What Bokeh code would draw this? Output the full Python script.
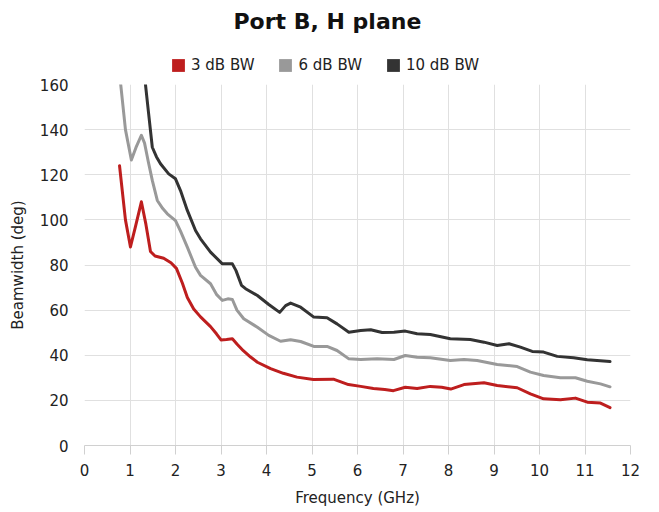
from bokeh.plotting import figure
from bokeh.layouts import column
from bokeh.models import Range1d, Legend, LegendItem, SingleIntervalTicker, ColumnDataSource
from bokeh.embed import file_html
from bokeh.resources import INLINE

FONT = "DejaVu Sans"

series_names = ["3 dB BW", "6 dB BW", "10 dB BW"]
series_colors = ["#BE1E1E", "#999999", "#333333"]

freq_3db = [0.77, 0.9, 1.01, 1.12, 1.25, 1.35, 1.45, 1.55, 1.74, 1.9, 2.02, 2.15, 2.26, 2.4, 2.55,
            2.77, 2.9, 3.0, 3.12, 3.25, 3.35, 3.49, 3.65, 3.8, 4.09, 4.37, 4.67, 5.03, 5.47, 5.8,
            6.07, 6.35, 6.6, 6.79, 7.05, 7.31, 7.6, 7.85, 8.05, 8.34, 8.78, 9.07, 9.51, 9.8,
            10.09, 10.46, 10.79, 11.05, 11.34, 11.55]
bw_3db = [124, 100, 88, 97, 108, 98, 86, 84, 83, 81, 78.5, 72, 65.6, 60.5, 57,
          52.7, 49.5, 46.8, 47, 47.3, 45, 42, 39.2, 36.9, 34.1, 32.0, 30.3, 29.3, 29.4, 27.0,
          26.2, 25.3, 24.8, 24.3, 25.8, 25.3, 26.2, 25.8, 25.0, 27, 27.8, 26.6, 25.6, 22.9,
          20.7, 20.3, 21, 19.2, 18.8, 16.8]

freq_6db = [0.77, 0.9, 1.03, 1.13, 1.25, 1.32, 1.4, 1.49, 1.6, 1.72, 1.82, 2.0, 2.11, 2.26, 2.44,
            2.55, 2.77, 2.9, 3.03, 3.15, 3.25, 3.35, 3.5, 3.8, 4.05, 4.31, 4.53, 4.75, 5.04, 5.33,
            5.55, 5.81, 6.07, 6.43, 6.8, 7.05, 7.31, 7.6, 8.04, 8.34, 8.63, 9.07, 9.51, 9.8,
            10.09, 10.46, 10.79, 11.05, 11.34, 11.55]
bw_6db = [165, 140, 126.5, 132, 137.5, 134, 126, 117.5, 108.6, 105, 102.7, 99.7, 95, 87.9, 79,
          75.4, 71.7, 67, 64.3, 65, 64.7, 60, 56.2, 52.4, 48.8, 46.2, 46.9, 46.1, 43.9, 43.9,
          42.1, 38.4, 38.1, 38.4, 38.1, 39.9, 39.1, 38.9, 37.7, 38.1, 37.7, 35.9, 35.0, 32.5,
          31.0, 30.0, 30.0, 28.5, 27.3, 26.0]

freq_10db = [1.3, 1.34, 1.41, 1.49, 1.58, 1.67, 1.85, 2.0, 2.11, 2.26, 2.44, 2.55, 2.77, 3.03, 3.25,
             3.33, 3.45, 3.54, 3.8, 4.05, 4.29, 4.42, 4.53, 4.75, 5.04, 5.33, 5.55, 5.81, 6.07, 6.29,
             6.54, 6.8, 7.05, 7.31, 7.6, 8.04, 8.48, 8.78, 9.07, 9.33, 9.58, 9.84, 10.09, 10.39,
             10.75, 11.05, 11.55]
bw_10db = [170, 160, 147, 132.2, 128, 124.9, 120.4, 118.2, 113, 104.2, 95.3, 91.6, 85.7, 80.5, 80.5,
           77.5, 71, 69.5, 66.5, 62.5, 59, 62, 63.1, 61.3, 56.9, 56.6, 53.9, 50.2, 51.0, 51.3,
           50.1, 50.2, 50.7, 49.5, 49.2, 47.3, 47.0, 45.8, 44.3, 45.1, 43.6, 41.7, 41.4, 39.5,
           38.9, 38.0, 37.2]

x_range = (0, 12)
y_range = (0, 160)

# ---- header: title + legend ----
head = figure(width=659, height=74, output_backend="svg", toolbar_location=None,
              x_range=Range1d(0, 1), y_range=Range1d(0, 1),
              x_axis_type=None, y_axis_type=None,
              min_border_left=0, min_border_right=0, min_border_top=40, min_border_bottom=0)
head.title.text = "Port B, H plane"
head.title.align = "left"
head.title.offset = 149
head.title.text_font = FONT
head.title.text_font_size = "22px"
head.title.text_font_style = "bold"
head.title.text_color = "#111111"
head.title.standoff = 13
head.outline_line_color = None
head.xgrid.visible = False
head.ygrid.visible = False

items = []
for name, c in zip(series_names, series_colors):
    src = ColumnDataSource(dict(l=[float("nan")], r=[float("nan")], b=[float("nan")], t=[float("nan")]))
    r = head.quad(left="l", right="r", bottom="b", top="t", source=src,
                  fill_color=c, line_color=None)
    items.append(LegendItem(label=name, renderers=[r]))

legend = Legend(items=items, orientation="horizontal", location=(86, 0),
                label_text_font=FONT, label_text_font_size="15px", label_text_color="#222222",
                glyph_width=16, glyph_height=16, spacing=23, label_standoff=5,
                border_line_color=None, background_fill_alpha=0, padding=4, margin=0)
head.add_layout(legend, "center")

# ---- main chart ----
p = figure(width=659, height=438, output_backend="svg", toolbar_location=None,
           x_range=Range1d(*x_range), y_range=Range1d(*y_range),
           min_border_left=84, min_border_right=29, min_border_top=10, min_border_bottom=67)
p.outline_line_color = None

for xs, ys, c in [(freq_3db, bw_3db, series_colors[0]),
                  (freq_6db, bw_6db, series_colors[1]),
                  (freq_10db, bw_10db, series_colors[2])]:
    p.line(xs, ys, line_color=c, line_width=3, line_join="round", line_cap="round")

p.xaxis.ticker = SingleIntervalTicker(interval=1)
p.yaxis.ticker = SingleIntervalTicker(interval=20)
p.xgrid.grid_line_color = "#e0e0e0"
p.ygrid.grid_line_color = "#e0e0e0"

p.xaxis.axis_label = "Frequency (GHz)"
p.yaxis.axis_label = "Beamwidth (deg)"
for ax in (p.xaxis, p.yaxis):
    ax.axis_label_text_font = FONT
    ax.axis_label_text_font_size = "15px"
    ax.axis_label_text_font_style = "normal"
    ax.axis_label_text_color = "#222222"
    ax.major_label_text_font = FONT
    ax.major_label_text_font_size = "15px"
    ax.major_label_text_color = "#222222"
    ax.minor_tick_line_color = None

p.xaxis.axis_line_color = "#d0d0d0"
p.xaxis.major_tick_line_color = "#d0d0d0"
p.xaxis.major_tick_out = 9
p.xaxis.major_tick_in = 0
p.xaxis.major_label_standoff = 9
p.xaxis.axis_label_standoff = 10

p.yaxis.axis_line_color = None
p.yaxis.major_tick_line_color = None
p.yaxis.major_label_standoff = 10
p.yaxis.axis_label_standoff = 10

layout = column(head, p, spacing=0)
open("out.html", "w").write(file_html(layout, INLINE))
